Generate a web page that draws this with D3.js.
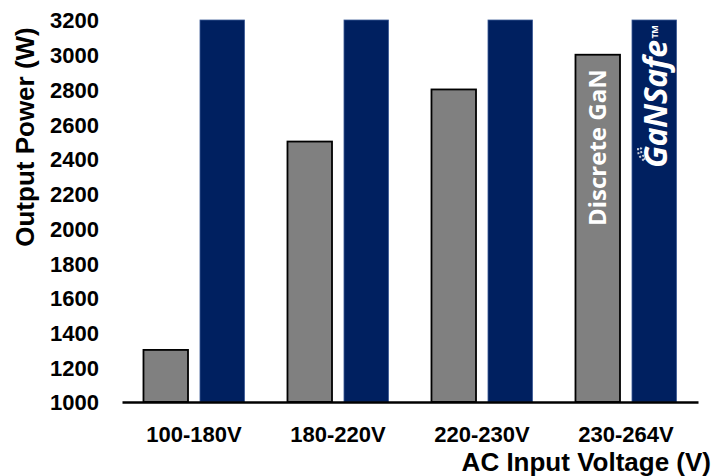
<!DOCTYPE html>
<html lang="en">
  <head>
    <meta charset="utf-8">
    <title>Output Power vs AC Input Voltage</title>
    <script src="https://d3js.org/d3.v7.min.js"></script>
    <style>
      body { margin: 0; background: #fff; }
      svg text { font-family: "Liberation Sans", Arial, sans-serif; font-weight: bold; fill: #000; }
      .axis path { stroke: #000; stroke-width: 2.5; }
      .axis line { display: none; }
    </style>
  </head>
  <body>
    <div id="chart"></div>
    <script>
      var w = 715;
      var h = 476;

      // chart data
      var categories = ["100-180V", "180-220V", "220-230V", "230-264V"];
      var series = ["Discrete GaN", "GaNSafe"];
      var discreteGaN = [1300, 2500, 2800, 3000];
      var ganSafe = [3200, 3200, 3200, 3200];
      var yTicks = [1000, 1200, 1400, 1600, 1800, 2000, 2200, 2400, 2600, 2800, 3000, 3200];

      var plotLeft = 122, plotRight = 698, plotTop = 20, plotBottom = 402;

      var svg = d3.select("#chart")
                  .append("svg")
                  .attr("width", w)
                  .attr("height", h);

      var x = d3.scaleBand().domain(categories).range([plotLeft, plotRight]);
      var xs = d3.scaleBand().domain(series).range([0, x.bandwidth()])
                 .paddingInner(0.212).paddingOuter(0.38);
      var y = d3.scaleLinear().domain([1000, 3200]).range([plotBottom, plotTop]);

      var rows = categories.map(function(c, i) {
        return { cat: c, values: [discreteGaN[i], ganSafe[i]] };
      });

      var groups = svg.selectAll("g.grp")
          .data(rows)
          .enter()
          .append("g")
          .attr("class", "grp")
          .attr("transform", function(d) { return "translate(" + x(d.cat) + ",0)"; });

      groups.selectAll("rect")
          .data(function(d) { return d.values.map(function(v, j) { return { s: series[j], v: v }; }); })
          .enter()
          .append("rect")
          .attr("x", function(d) { return xs(d.s); })
          .attr("y", function(d) { return y(d.v); })
          .attr("width", xs.bandwidth())
          .attr("height", function(d) { return y(1000) - y(d.v); })
          .style("fill", function(d) { return d.s == "GaNSafe" ? "#002060" : "#808080"; })
          .style("stroke", function(d) { return d.s == "GaNSafe" ? "#3b5a96" : "#000"; })
          .style("stroke-width", function(d) { return d.s == "GaNSafe" ? 0.8 : 1.8; });

      // y axis labels
      svg.append("g")
         .attr("class", "axis")
         .attr("transform", "translate(" + plotLeft + ",0)")
         .call(d3.axisLeft(y).tickValues(yTicks).tickSize(0).tickPadding(23).tickFormat(d3.format("d")))
         .call(function(g) { g.select(".domain").remove(); })
         .selectAll("text")
         .style("font-size", "22px")
         .attr("dy", "0.36em");

      // x axis
      svg.append("g")
         .attr("class", "axis")
         .attr("transform", "translate(0," + plotBottom + ")")
         .call(d3.axisBottom(x).tickSize(0).tickPadding(24).tickSizeOuter(0))
         .selectAll("text")
         .style("font-size", "22px");

      // axis titles
      svg.append("text")
         .attr("x", 711)
         .attr("y", 471)
         .attr("text-anchor", "end")
         .style("font-size", "26px")
         .text("AC Input Voltage (V)");

      svg.append("text")
         .attr("transform", "translate(34,137) rotate(-90)")
         .attr("text-anchor", "middle")
         .style("font-size", "26px")
         .text("Output Power (W)");

      // labels inside last bars
      var last = categories[categories.length - 1];
      svg.append("text")
         .attr("transform", "translate(" + (x(last) + xs("Discrete GaN") + 31) + ",226) rotate(-90)")
         .style("font-family", "'Open Sans', sans-serif")
         .style("font-size", "24px")
         .style("fill", "#fff")
         .text("Discrete GaN");

      var bx = x(last) + xs("GaNSafe");
      var logo = svg.append("text")
         .attr("transform", "translate(" + (bx + 35) + ",168) rotate(-90)")
         .style("font-family", "'Open Sans', sans-serif")
         .style("font-size", "32px")
         .style("font-style", "italic")
         .style("fill", "#fff")
         .style("letter-spacing", "-0.5px");
      logo.append("tspan").text("GaNSafe");
      logo.append("tspan")
          .attr("dy", "-1.05em")
          .attr("dx", "2")
          .style("font-size", "9px")
          .style("font-style", "normal")
          .text("TM");

      // swoosh of the logo
      svg.append("path")
         .attr("d", d3.arc()({ innerRadius: 9, outerRadius: 12, startAngle: -2.6, endAngle: -1.4 }))
         .attr("transform", "translate(" + (bx + 18) + ",150)")
         .style("fill", "none")
         .style("stroke", "#c8ccd6")
         .style("stroke-width", 2)
         .style("stroke-dasharray", "2 2");
    </script>
  </body>
</html>
